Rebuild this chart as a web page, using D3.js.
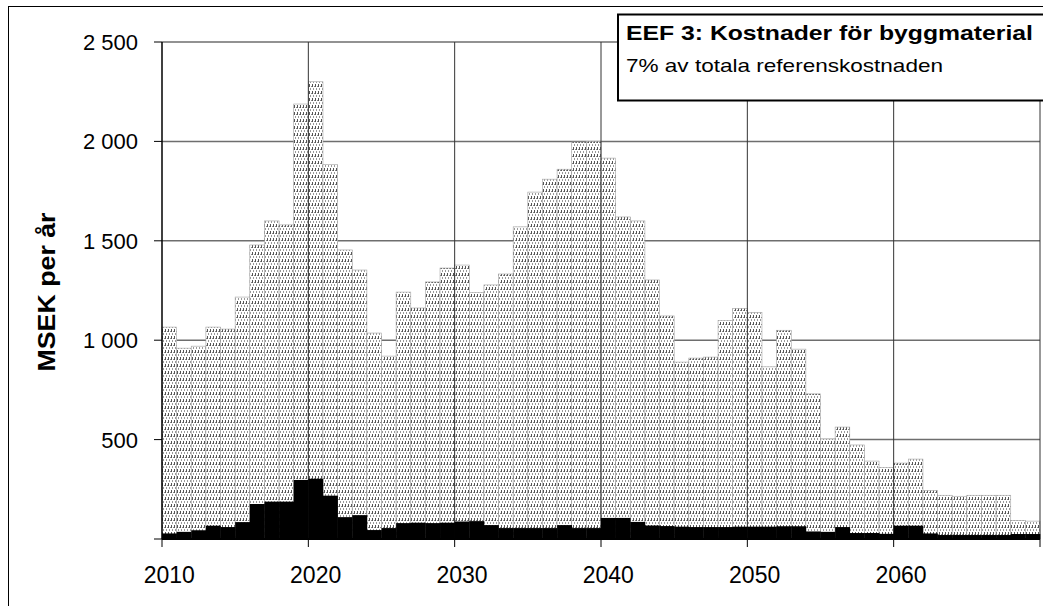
<!DOCTYPE html>
<html><head><meta charset="utf-8">
<script src="https://cdn.jsdelivr.net/npm/d3@7"></script>
<style>body{margin:0;background:#fff}svg{display:block}</style>
</head><body><svg id="c" width="1043" height="606"></svg>
<script>
const years = [2010,2011,2012,2013,2014,2015,2016,2017,2018,2019,
  2020,2021,2022,2023,2024,2025,2026,2027,2028,2029,
  2030,2031,2032,2033,2034,2035,2036,2037,2038,2039,
  2040,2041,2042,2043,2044,2045,2046,2047,2048,2049,
  2050,2051,2052,2053,2054,2055,2056,2057,2058,2059,
  2060,2061,2062,2063,2064,2065,2066,2067,2068,2069];
const totalCost = [1066,960,970,1066,1056,1217,1479,1600,1580,2188,
  2300,1883,1454,1353,1036,920,1242,1162,1293,1363,
  1378,1240,1278,1333,1570,1745,1810,1860,1997,2000,
  1916,1620,1600,1303,1122,890,910,915,1100,1160,
  1140,866,1050,955,730,503,563,473,392,360,
  382,402,244,220,215,220,220,220,93,90];
const blackCost = [28,36,44,67,60,85,176,188,188,297,
  303,218,110,120,45,55,80,82,80,82,
  88,90,70,55,55,55,55,70,55,55,
  106,106,86,68,65,62,60,60,60,62,
  62,62,64,64,38,36,60,30,30,26,
  67,67,28,20,20,20,20,20,25,25];
const yTicks = [500,1000,1500,2000,2500];
const yTickLabels = ["500","1 000","1 500","2 000","2 500"];
const xTickYears = [2010,2020,2030,2040,2050,2060];
const xTickLabels = ["2010","2020","2030","2040","2050","2060"];
const gridYears = [2020,2030,2040,2050,2060];
const titleText = "EEF 3: Kostnader för byggmaterial";
const subtitleText = "7% av totala referenskostnaden";
const yLabel = "MSEK per år";

const FONT = "'Liberation Sans', Arial, sans-serif";
const svg = d3.select("#c");
const L = 162, R = 1040, T = 42, B = 539;
const x = d3.scaleBand().domain(years).range([L, R]).padding(0);
const y = d3.scaleLinear().domain([0, 2500]).range([B, T]);

// streaky stipple pattern
const defs = svg.append("defs");
const pat = defs.append("pattern").attr("id", "stip").attr("patternUnits", "userSpaceOnUse")
  .attr("width", 3).attr("height", 7);
pat.append("rect").attr("width", 3).attr("height", 7).attr("fill", "#fff");
pat.append("rect").attr("x", 0).attr("y", 0).attr("width", 1).attr("height", 3).attr("fill", "#555");
pat.append("rect").attr("x", 1).attr("y", 4).attr("width", 1).attr("height", 2).attr("fill", "#999");
pat.append("rect").attr("x", 2).attr("y", 2).attr("width", 1).attr("height", 1).attr("fill", "#888");

// outer border
svg.append("rect").attr("x", 8.5).attr("y", 6.5).attr("width", 1100).attr("height", 700)
  .attr("fill", "none").attr("stroke", "#000").attr("stroke-width", 1);

// horizontal gridlines (behind bars)
svg.append("g").selectAll("line").data(yTicks).join("line")
  .attr("x1", L).attr("x2", R).attr("y1", d => y(d)).attr("y2", d => y(d))
  .attr("stroke", "#6e6e6e").attr("stroke-width", 1.5);

// gray total bars
svg.append("g").selectAll("rect").data(years).join("rect")
  .attr("x", d => x(d)).attr("width", x.bandwidth())
  .attr("y", (d, i) => y(totalCost[i])).attr("height", (d, i) => B - y(totalCost[i]))
  .attr("fill", "url(#stip)").attr("stroke", "#a0a0a0").attr("stroke-width", 0.6);

// vertical gridlines (over gray bars)
svg.append("g").selectAll("line").data(gridYears).join("line")
  .attr("x1", d => x(d)).attr("x2", d => x(d)).attr("y1", T).attr("y2", B)
  .attr("stroke", "#333").attr("stroke-width", 1);
svg.append("line").attr("x1", R).attr("x2", R).attr("y1", T).attr("y2", B)
  .attr("stroke", "#333").attr("stroke-width", 1);

// black bars
svg.append("g").selectAll("rect").data(years).join("rect")
  .attr("x", d => x(d)).attr("width", x.bandwidth() + 0.3)
  .attr("y", (d, i) => y(blackCost[i])).attr("height", (d, i) => B - y(blackCost[i]))
  .attr("fill", "#000");

// axes
svg.append("line").attr("x1", L).attr("x2", L).attr("y1", T).attr("y2", B)
  .attr("stroke", "#000").attr("stroke-width", 1.5);
svg.append("line").attr("x1", L).attr("x2", R).attr("y1", B).attr("y2", B)
  .attr("stroke", "#000").attr("stroke-width", 2);
svg.append("g").selectAll("line").data([0].concat(yTicks)).join("line")
  .attr("x1", L - 8).attr("x2", L).attr("y1", d => y(d)).attr("y2", d => y(d))
  .attr("stroke", "#000").attr("stroke-width", 1);
svg.append("g").selectAll("text").data(yTicks).join("text")
  .attr("x", 138).attr("y", d => y(d)).attr("dy", "0.36em")
  .attr("text-anchor", "end").attr("font-family", FONT).attr("font-size", 22)
  .text((d, i) => yTickLabels[i]);

const xTickPos = xTickYears.map(d => x(d)).concat([R]);
svg.append("g").selectAll("line").data(xTickPos).join("line")
  .attr("x1", d => d).attr("x2", d => d).attr("y1", B).attr("y2", B + 8)
  .attr("stroke", "#000").attr("stroke-width", 1);
svg.append("g").selectAll("text").data(xTickYears).join("text")
  .attr("x", d => x(d) + x.bandwidth() / 2).attr("y", 583)
  .attr("text-anchor", "middle").attr("font-family", FONT).attr("font-size", 23)
  .text((d, i) => xTickLabels[i]);

// y axis title
svg.append("text").attr("transform", "translate(55,292) rotate(-90)")
  .attr("text-anchor", "middle").attr("font-family", FONT).attr("font-size", 24)
  .attr("font-weight", "bold").attr("textLength", 159).attr("lengthAdjust", "spacingAndGlyphs")
  .text(yLabel);

// text box
svg.append("rect").attr("x", 618).attr("y", 14.5).attr("width", 440).attr("height", 86)
  .attr("fill", "#fff").attr("stroke", "#000").attr("stroke-width", 2);
svg.append("text").attr("x", 626).attr("y", 40).attr("font-family", FONT)
  .attr("font-size", 21).attr("font-weight", "bold")
  .attr("textLength", 407).attr("lengthAdjust", "spacingAndGlyphs").text(titleText);
svg.append("text").attr("x", 626).attr("y", 72).attr("font-family", FONT)
  .attr("font-size", 19)
  .attr("textLength", 317).attr("lengthAdjust", "spacingAndGlyphs").text(subtitleText);
</script></body></html>
